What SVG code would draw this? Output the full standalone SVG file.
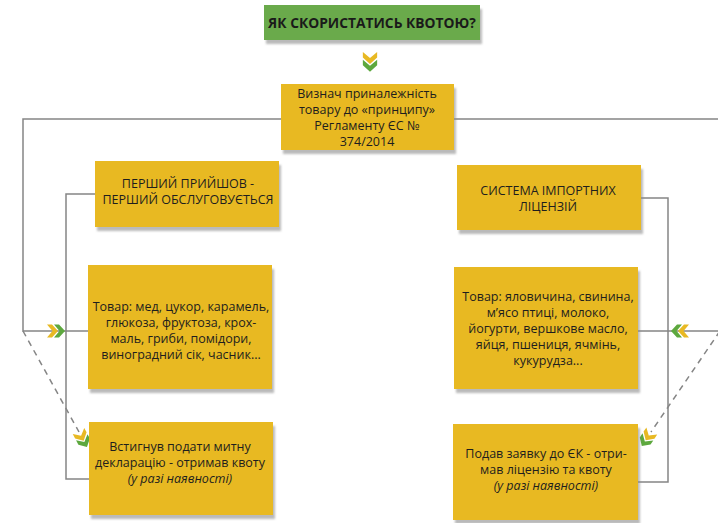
<svg xmlns="http://www.w3.org/2000/svg" width="718" height="523" viewBox="0 0 718 523">
<defs>
<style>
.box{fill:#E8B923;filter:url(#sh)}
.title{fill:#6AAA4B;filter:url(#sh)}
.t{font-family:"Open Sans","Noto Sans",sans-serif;font-size:12.5px;fill:#1e1e1e;text-anchor:middle}
.tt{font-family:"Open Sans","Noto Sans",sans-serif;font-size:13.8px;font-weight:bold;fill:#1a1a1a;text-anchor:middle}
.it{font-style:italic}
.ln{fill:none;stroke:#858585;stroke-width:1.5}
.dash{fill:none;stroke:#858585;stroke-width:1.5;stroke-dasharray:6 5}
.cy{fill:#E8B923}
.cg{fill:#5DA83E}
</style>
<filter id="sh" x="-10%" y="-10%" width="125%" height="130%">
<feDropShadow dx="2" dy="4" stdDeviation="1" flood-color="#8c8c8c" flood-opacity="0.6"/>
</filter>
<polygon id="chev" points="0,-6.5 5,-6.5 11,0 5,6.5 0,6.5 5.5,0"/>
<g id="dchev">
<use href="#chev" class="cy"/>
<use href="#chev" x="7" class="cg"/>
</g>
</defs>

<g id="connectors">
<polyline class="ln" points="281,119 23,119 23,331 88,331"/>
<polyline class="ln" points="454,119 720,119 720,331 638,331"/>
<polyline class="ln" points="95,194 66,194 66,479 89,479"/>
<polyline class="ln" points="641,198 668,198 668,482 638,482"/>
<line class="dash" x1="23" y1="331" x2="79" y2="432"/>
<line class="dash" x1="720" y1="331" x2="651" y2="432"/>
<use href="#dchev" transform="translate(370,52) rotate(90) scale(1.1)"/>
<use href="#dchev" transform="translate(47,331)"/>
<use href="#dchev" transform="translate(689,331) rotate(180)"/>
<use href="#dchev" transform="translate(78.5,431) rotate(62)"/>
<use href="#dchev" transform="translate(651.8,431) rotate(123.7)"/>
</g>

<g id="title">
<rect class="title" x="264" y="5" width="216" height="35"/>
<text class="tt" x="372" y="28">ЯК СКОРИСТАТИСЬ КВОТОЮ?</text>
</g>

<g id="principle">
<rect class="box" x="281" y="84" width="173" height="66"/>
<text class="t" x="367" y="98">Визнач приналежність</text>
<text class="t" x="367" y="114">товару до «принципу»</text>
<text class="t" x="367" y="130">Регламенту ЄС №</text>
<text class="t" x="367" y="146">374/2014</text>
</g>

<g id="fcfs">
<rect class="box" x="95" y="161" width="184" height="66"/>
<text class="t" x="188" y="188">ПЕРШИЙ ПРИЙШОВ -</text>
<text class="t" x="188" y="204">ПЕРШИЙ ОБСЛУГОВУЄТЬСЯ</text>
</g>

<g id="licence">
<rect class="box" x="457" y="165" width="184" height="65"/>
<text class="t" x="548" y="195">СИСТЕМА ІМПОРТНИХ</text>
<text class="t" x="548" y="211">ЛІЦЕНЗІЙ</text>
</g>

<g id="goods-left">
<rect class="box" x="88" y="265" width="184" height="124"/>
<text class="t" x="181" y="311">Товар: мед, цукор, карамель,</text>
<text class="t" x="181" y="327">глюкоза, фруктоза, крох-</text>
<text class="t" x="181" y="343">маль, гриби, помідори,</text>
<text class="t" x="181" y="359">виноградний сік, часник...</text>
</g>

<g id="goods-right">
<rect class="box" x="454" y="267" width="184" height="122"/>
<text class="t" x="548" y="301">Товар: яловичина, свинина,</text>
<text class="t" x="548" y="317">м’ясо птиці, молоко,</text>
<text class="t" x="548" y="333">йогурти, вершкове масло,</text>
<text class="t" x="548" y="349">яйця, пшениця, ячмінь,</text>
<text class="t" x="548" y="365">кукурудза...</text>
</g>

<g id="result-left">
<rect class="box" x="89" y="422" width="184" height="93"/>
<text class="t" x="180" y="451">Встигнув подати митну</text>
<text class="t" x="180" y="467">декларацію - отримав квоту</text>
<text class="t it" x="180" y="483">(у разі наявності)</text>
</g>

<g id="result-right">
<rect class="box" x="453" y="424" width="185" height="96"/>
<text class="t" x="546" y="458">Подав заявку до ЄК - отри-</text>
<text class="t" x="546" y="474">мав ліцензію та квоту</text>
<text class="t it" x="546" y="490">(у разі наявності)</text>
</g>
</svg>
